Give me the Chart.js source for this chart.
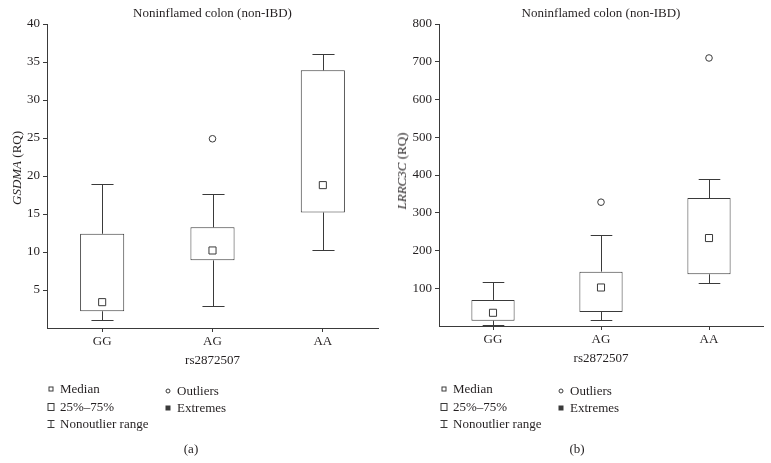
<!DOCTYPE html>
<html>
<head>
<meta charset="utf-8">
<script src="https://cdn.jsdelivr.net/npm/chart.js@4.4.1/dist/chart.umd.min.js"></script>
<style>
  body { margin:0; background:#fff; font-family:"Liberation Serif","DejaVu Serif",serif; color:#231f20; }
  #wrap { position:relative; width:771px; height:463px; overflow:hidden; }
  canvas { position:absolute; top:0; }
  .ylab { position:absolute; font-size:13px; white-space:nowrap; transform:translate(-50%,-50%) rotate(-90deg); }
  .lg { position:absolute; font-size:13px; white-space:nowrap; line-height:16px; transform:translateY(-50%); }
  .sym { position:absolute; transform:translate(-50%,-50%); box-sizing:border-box; }
  .cap { position:absolute; font-size:13px; transform:translate(-50%,-50%); }
</style>
</head>
<body>
<div id="wrap">
  <canvas id="chartA" width="385" height="463" style="left:0"></canvas>
  <canvas id="chartB" width="386" height="463" style="left:385px"></canvas>
</div>
<script>
/* genotype categories */
const genotypes = ['GG', 'AG', 'AA'];

/* (a) GSDMA (RQ) */
const gsdmaMin    = [1.0, 2.9, 10.3];
const gsdmaQ1     = [2.2, 8.9, 15.2];
const gsdmaMedian = [3.4, 10.2, 18.8];
const gsdmaQ3     = [12.4, 13.25, 33.9];
const gsdmaMax    = [19.0, 17.6, 36.1];
const gsdmaOutliers = [null, 24.9, null];
const gsdmaTicks  = [5, 10, 15, 20, 25, 30, 35, 40];

/* (b) LRRC3C (RQ) */
const lrrcMin    = [3, 15, 115];
const lrrcQ1     = [14, 37, 137];
const lrrcMedian = [35, 102, 233];
const lrrcQ3     = [69, 144, 339];
const lrrcMax    = [117, 240, 389];
const lrrcOutliers = [null, 328, 710];
const lrrcTicks  = [100, 200, 300, 400, 500, 600, 700, 800];

const INK = '#3a3a3a';
const TXT = '#231f20';
const FONT = "'Liberation Serif', 'DejaVu Serif', serif";

// whiskers: line from box edge to min/max plus a cap half the box width
const whiskerPlugin = {
  id: 'whiskers',
  beforeDatasetsDraw(chart, args, opts) {
    const ctx = chart.ctx, y = chart.scales.y;
    const bars = chart.getDatasetMeta(0).data;
    ctx.save();
    ctx.strokeStyle = INK;
    ctx.lineWidth = 1;
    bars.forEach((bar, i) => {
      const x = Math.round(bar.x) + 0.5;
      const half = bar.width / 4;
      [[opts.q3[i], opts.hi[i]], [opts.q1[i], opts.lo[i]]].forEach(([from, to]) => {
        const y0 = y.getPixelForValue(from), y1 = Math.round(y.getPixelForValue(to)) + 0.5;
        ctx.beginPath();
        ctx.moveTo(x, y0); ctx.lineTo(x, y1);
        ctx.moveTo(x - half, y1); ctx.lineTo(x + half, y1);
        ctx.stroke();
      });
    });
    ctx.restore();
  }
};

function makeChart(id, d) {
  return new Chart(document.getElementById(id), {
    type: 'bar',
    data: {
      labels: genotypes,
      datasets: [
        { label: '25%-75%', data: d.q1.map((v, i) => [v, d.q3[i]]),
          backgroundColor: '#fff', borderColor: INK, borderWidth: 1, borderSkipped: false,
          barPercentage: 0.4, categoryPercentage: 1, order: 3 },
        { type: 'line', label: 'Median', data: d.med, showLine: false,
          pointStyle: 'rect', pointRadius: 5, pointBackgroundColor: '#fff',
          pointBorderColor: INK, pointBorderWidth: 1, order: 1 },
        { type: 'line', label: 'Outliers', data: d.out, showLine: false,
          pointStyle: 'circle', pointRadius: 3.3, pointBackgroundColor: '#fff',
          pointBorderColor: INK, pointBorderWidth: 1, order: 2 }
      ]
    },
    options: {
      responsive: false, devicePixelRatio: 1, animation: false,
      layout: { padding: { left: 0, right: d.padRight, top: 0, bottom: d.padBottom } },
      plugins: {
        legend: { display: false }, tooltip: { enabled: false },
        title: { display: true, text: 'Noninflamed colon (non-IBD)', fullSize: false, color: TXT,
                 font: { family: FONT, size: 13, weight: 'normal', lineHeight: 1.2 },
                 padding: { top: 6, bottom: 2.4 } },
        whiskers: { q1: d.q1, q3: d.q3, lo: d.lo, hi: d.hi }
      },
      scales: {
        x: {
          offset: true,
          grid: { drawOnChartArea: false, drawTicks: true, tickLength: 4, offset: false, color: INK },
          border: { display: true, color: INK, width: 1 },
          ticks: { color: TXT, padding: 2, font: { family: FONT, size: 13 } },
          title: { display: true, text: 'rs2872507', color: TXT, padding: { top: 4, bottom: 4 },
                   font: { family: FONT, size: 13 } },
          afterFit(s) { s.height = 44; }
        },
        y: {
          min: 0, max: d.max,
          afterBuildTicks(s) { s.ticks = d.ticks.map(v => ({ value: v })); },
          grid: { drawOnChartArea: false, drawTicks: true, tickLength: 4, color: INK },
          border: { display: true, color: INK, width: 1 },
          ticks: { color: TXT, padding: 3, font: { family: FONT, size: 13 } },
          afterFit(s) { s.width = d.yWidth; }
        }
      }
    },
    plugins: [whiskerPlugin]
  });
}

makeChart('chartA', { q1: gsdmaQ1, q3: gsdmaQ3, med: gsdmaMedian, out: gsdmaOutliers,
  lo: gsdmaMin, hi: gsdmaMax, ticks: gsdmaTicks, max: 40, yWidth: 47, padRight: 7, padBottom: 91 });
makeChart('chartB', { q1: lrrcQ1, q3: lrrcQ3, med: lrrcMedian, out: lrrcOutliers,
  lo: lrrcMin, hi: lrrcMax, ticks: lrrcTicks, max: 800, yWidth: 54, padRight: 8, padBottom: 93 });

// y titles + statistica-style legends (HTML overlay)
const wrap = document.getElementById('wrap');
function addPanelText(x0, yTitle, yx, yy, capX, capText) {
  wrap.insertAdjacentHTML('beforeend', `
    <div class="ylab" style="left:${yx}px;top:${yy}px"><i>${yTitle}</i> (RQ)</div>
    <div class="sym" style="left:${x0}px;top:389px;width:5px;height:5px;border:1px solid ${INK}"></div>
    <div class="lg" style="left:${x0 + 9}px;top:389px">Median</div>
    <div class="sym" style="left:${x0}px;top:407px;width:7px;height:8px;border:1px solid ${INK}"></div>
    <div class="lg" style="left:${x0 + 9}px;top:407px">25%–75%</div>
    <div class="sym" style="left:${x0}px;top:424px;width:7px;height:8px;border-top:1px solid ${INK};border-bottom:1px solid ${INK}">
      <div style="position:absolute;left:3px;top:0;width:1px;height:6px;background:${INK}"></div></div>
    <div class="lg" style="left:${x0 + 9}px;top:424px">Nonoutlier range</div>
    <div class="sym" style="left:${x0 + 117}px;top:391px;width:5px;height:5px;border:1px solid ${INK};border-radius:50%"></div>
    <div class="lg" style="left:${x0 + 126}px;top:391px">Outliers</div>
    <div class="sym" style="left:${x0 + 117}px;top:408px;width:5px;height:5px;background:${INK}"></div>
    <div class="lg" style="left:${x0 + 126}px;top:408px">Extremes</div>
    <div class="cap" style="left:${capX}px;top:449px">${capText}</div>
  `);
}
addPanelText(51, 'GSDMA', 17, 168, 191, '(a)');
addPanelText(444, 'LRRC3C', 402, 171, 577, '(b)');
</script>
</body>
</html>
